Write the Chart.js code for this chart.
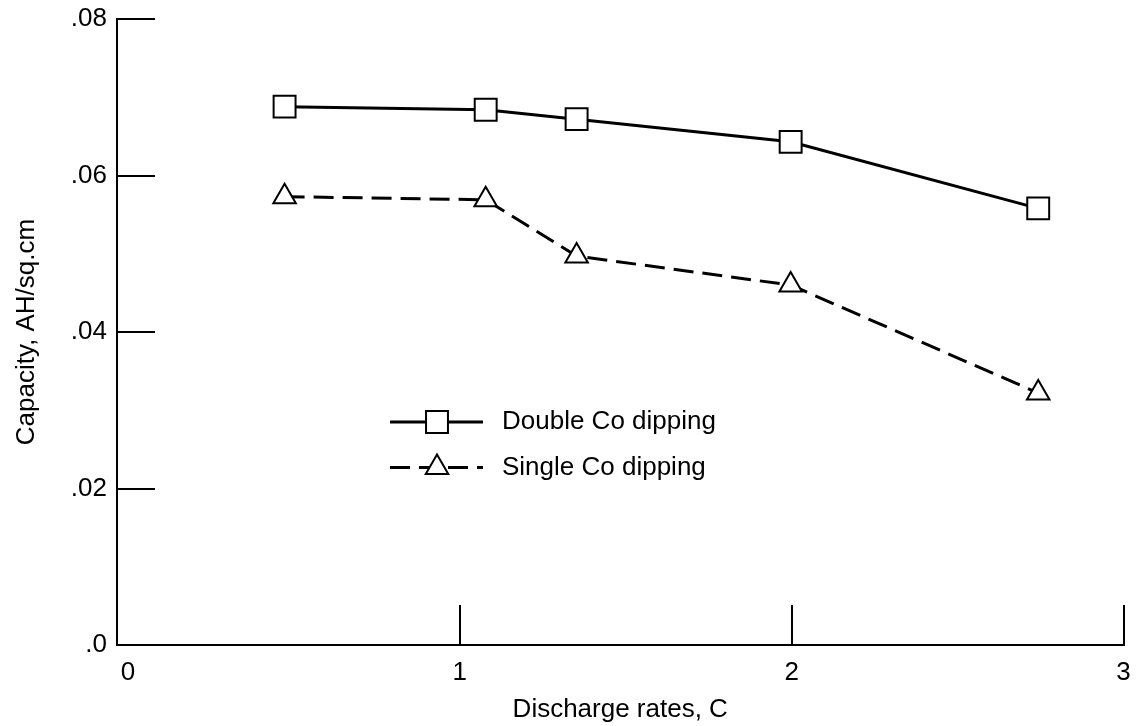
<!DOCTYPE html>
<html><head><meta charset="utf-8">
<script src="https://cdn.jsdelivr.net/npm/chart.js@4/dist/chart.umd.min.js"></script>
<style>html,body{margin:0;padding:0;background:#fff}#wrap{width:1141px;height:726px;position:relative}</style>
</head><body><div id="wrap"><canvas id="c" width="1141" height="726"></canvas></div>
<script>
const rates = [0.472, 1.078, 1.352, 1.997, 2.743];
const doubleCo = [0.0688, 0.0684, 0.0672, 0.0643, 0.0558];
const singleCo = [0.0573, 0.0569, 0.0497, 0.0460, 0.0322];
const xTicks = [0, 1, 2, 3];
const xTickLabels = ['0', '1', '2', '3'];
const yTicks = [0, 0.02, 0.04, 0.06, 0.08];
const yTickLabels = ['.0', '.02', '.04', '.06', '.08'];
const seriesNames = ['Double Co dipping', 'Single Co dipping'];
const xTitle = 'Discharge rates, C';
const yTitle = 'Capacity, AH/sq.cm';

const FONT = 'Liberation Sans, Arial, Helvetica, sans-serif';

const legendPlugin = {
  id: 'lineLegend',
  afterDatasetsDraw(chart) {
    const ctx = chart.ctx;
    chart.data.datasets.forEach((ds, i) => {
      const y = 422 + i * 45.5;
      ctx.save();
      ctx.strokeStyle = '#000';
      ctx.lineWidth = 3;
      ctx.setLineDash(ds.borderDash || []);
      ctx.beginPath();
      ctx.moveTo(390, y);
      ctx.lineTo(483, y);
      ctx.stroke();
      ctx.setLineDash([]);
      ctx.fillStyle = '#fff';
      ctx.strokeStyle = '#000';
      ctx.lineWidth = ds.pointBorderWidth;
      Chart.helpers.drawPoint(ctx, {pointStyle: ds.pointStyle, rotation: 0, radius: ds.pointRadius, borderWidth: ds.pointBorderWidth}, 437, y);
      ctx.fillStyle = '#000';
      ctx.font = '26px ' + FONT;
      ctx.textBaseline = 'middle';
      ctx.textAlign = 'left';
      ctx.fillText(ds.label, 502, y);
      ctx.restore();
    });
  }
};

const tickColor = (c) => (c.tick && c.tick.value === 0) ? 'rgba(0,0,0,0)' : '#000';

new Chart(document.getElementById('c'), {
  type: 'scatter',
  data: {
    datasets: [
      {
        label: seriesNames[0],
        data: rates.map((x, i) => ({x, y: doubleCo[i]})),
        showLine: true,
        borderColor: '#000',
        borderWidth: 3,
        pointStyle: 'rect',
        pointRadius: 15.5,
        pointBorderWidth: 2,
        pointBackgroundColor: '#fff',
        pointBorderColor: '#000'
      },
      {
        label: seriesNames[1],
        data: rates.map((x, i) => ({x, y: singleCo[i]})),
        showLine: true,
        borderColor: '#000',
        borderWidth: 3,
        borderDash: [20, 9],
        pointStyle: 'triangle',
        pointRadius: 13,
        pointBorderWidth: 2,
        pointBackgroundColor: '#fff',
        pointBorderColor: '#000'
      }
    ]
  },
  options: {
    responsive: false,
    devicePixelRatio: 1,
    animation: false,
    layout: {padding: {top: 19, right: 0, bottom: 0, left: 0}},
    plugins: {legend: {display: false}, tooltip: {enabled: false}},
    scales: {
      x: {
        type: 'linear',
        min: -0.033,
        max: 3,
        afterBuildTicks: (s) => { s.ticks = xTicks.map(v => ({value: v})); },
        afterFit: (s) => { s.height = 81; s.paddingLeft = 0; s.paddingRight = 0; },
        ticks: {
          color: '#000',
          font: {size: 26, family: FONT},
          padding: 52,
          maxRotation: 0,
          autoSkip: false,
          callback: (v, i) => xTickLabels[i]
        },
        grid: {drawOnChartArea: false, tickLength: -40, lineWidth: 2, color: tickColor},
        border: {display: true, color: '#000', width: 2},
        title: {display: true, text: xTitle, color: '#000', font: {size: 26, family: FONT}, padding: {top: 0, bottom: 1}}
      },
      y: {
        type: 'linear',
        min: 0,
        max: 0.08,
        afterBuildTicks: (s) => { s.ticks = yTicks.map(v => ({value: v})); },
        afterFit: (s) => { s.width = 117; s.paddingTop = 0; s.paddingBottom = 0; },
        ticks: {
          color: '#000',
          font: {size: 26, family: FONT},
          padding: 48,
          autoSkip: false,
          callback: (v, i) => yTickLabels[i]
        },
        grid: {drawOnChartArea: false, tickLength: -38, lineWidth: 2, color: tickColor},
        border: {display: true, color: '#000', width: 2},
        title: {display: true, text: yTitle, color: '#000', font: {size: 26, family: FONT}, padding: {top: 11, bottom: 0}}
      }
    }
  },
  plugins: [legendPlugin]
});
</script>
</body></html>
